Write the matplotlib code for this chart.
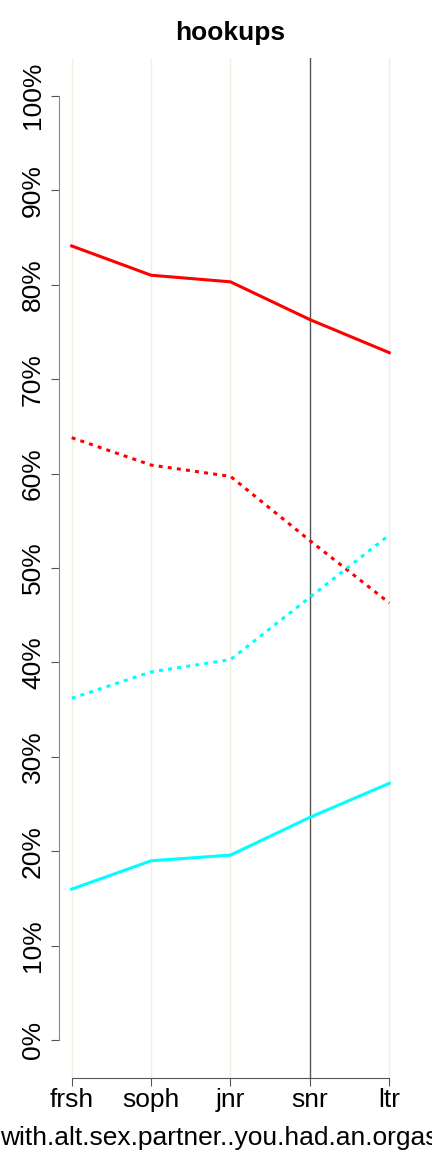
import matplotlib
matplotlib.use("Agg")
import matplotlib.pyplot as plt

plt.rcParams['font.family'] = ['Liberation Sans', 'DejaVu Sans']

categories = ["frsh", "soph", "jnr", "snr", "ltr"]
red_solid = [0.841, 0.810, 0.803, 0.763, 0.728]
red_dotted = [0.638, 0.609, 0.597, 0.529, 0.463]
cyan_dotted = [0.362, 0.390, 0.403, 0.469, 0.535]
cyan_solid = [0.160, 0.190, 0.196, 0.236, 0.272]
yticks = [0.0, 0.1, 0.2, 0.3, 0.4, 0.5, 0.6, 0.7, 0.8, 0.9, 1.0]
ytick_labels = ["0%", "10%", "20%", "30%", "40%", "50%", "60%", "70%", "80%", "90%", "100%"]
highlight = "snr"

fig = plt.figure(figsize=(4.32, 11.52), dpi=100)
ax = fig.add_axes([59/432, 1-1078/1152, (402-59)/432, (1078-58)/1152])

x = list(range(1, len(categories) + 1))
for xi, c in zip(x, categories):
    if c == highlight:
        ax.axvline(xi, color="#555555", lw=1.0, zorder=1)
    else:
        ax.axvline(xi, color="#f0efe2", lw=1.0, zorder=1)

dash = (0, (1.3, 1.7))
ax.plot(x, red_solid, color="#ff0000", lw=2.2, zorder=3)
ax.plot(x, red_dotted, color="#ff0000", lw=2.2, ls=dash, dash_capstyle="butt", zorder=3)
ax.plot(x, cyan_dotted, color="#00ffff", lw=2.2, ls=dash, dash_capstyle="butt", zorder=3)
ax.plot(x, cyan_solid, color="#00ffff", lw=2.2, zorder=3)

ax.set_xlim(1 - 0.16, 5 + 0.16)
ax.set_ylim(-0.04, 1.04)

ax.spines["top"].set_visible(False)
ax.spines["right"].set_visible(False)
ax.spines["left"].set_bounds(0, 1)
ax.spines["bottom"].set_bounds(1, 5)
ax.spines["left"].set_color("#888888")
ax.spines["bottom"].set_color("#555555")

ax.set_yticks(yticks)
ax.set_yticklabels(ytick_labels, rotation=90, va="center", fontsize=19)
ax.set_xticks(x)
ax.set_xticklabels(categories, fontsize=19)
ax.tick_params(axis="y", direction="out", length=6, color="#555555", pad=4)
ax.tick_params(axis="x", direction="out", length=6, color="#555555", pad=1)

ax.set_title("hookups", fontsize=19, fontweight="bold", pad=13)
ax.set_xlabel("with.alt.sex.partner..you.had.an.orgasm", fontsize=19, labelpad=10)

fig.savefig("out.png", dpi=100)
